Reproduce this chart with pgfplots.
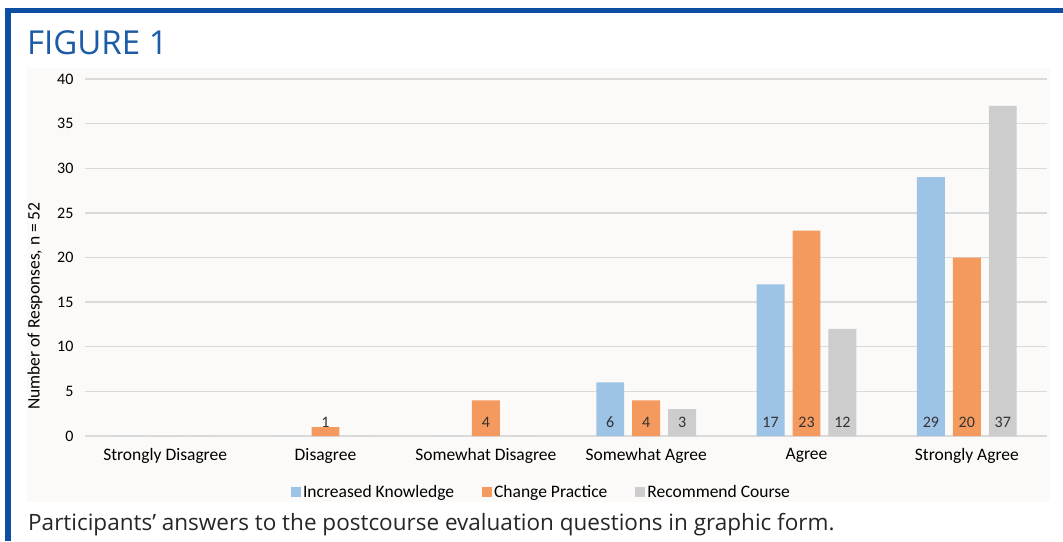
\documentclass[border=0pt]{standalone}
\usepackage{pgfplots}
\pgfplotsset{compat=1.18}
\usepackage{fontspec}
\newfontfamily\carlito{Carlito}
\newfontfamily\capfont{Open Sans}
\definecolor{framecol}{HTML}{0B4EA2}
\definecolor{titlecol}{HTML}{1C5BA6}
\definecolor{panel}{HTML}{FBFAF8}
\definecolor{cblue}{HTML}{9DC3E6}
\definecolor{corange}{HTML}{F59A5E}
\definecolor{cgray}{HTML}{CDCDCD}
\definecolor{gridc}{HTML}{DADADA}
\definecolor{labc}{HTML}{333333}
\begin{document}
\begin{tikzpicture}
\useasboundingbox (0,0) rectangle (1063pt,541pt);
\fill[white] (0,0) rectangle (1063pt,541pt);
\fill[panel] (27pt,39pt) rectangle (1050pt,473pt);
\fill[framecol] (5pt,0pt) rectangle (11pt,533pt);
\fill[framecol] (5pt,528pt) rectangle (1063pt,533pt);
\node[anchor=base west, inner sep=0pt, text=titlecol, font=\capfont\fontsize{33}{38}\selectfont] at (27pt,486pt) {FIGURE 1};
\node[anchor=base west, inner sep=0pt, text=black!85, font=\capfont\fontsize{22.5}{26}\selectfont] at (28pt,11pt) {Participants’ answers to the postcourse evaluation questions in graphic form.};
\begin{axis}[
  at={(85pt,105pt)}, anchor=south west,
  scale only axis, width=962pt, height=357pt,
  ymin=0, ymax=40, xmin=-0.5, xmax=5.5,
  ytick={0,5,...,40},
  xtick={0,1,2,3,4,5},
  xticklabels={Strongly Disagree,Disagree,Somewhat Disagree,Somewhat Agree,Agree,Strongly Agree},
  major tick length=0pt,
  axis line style={draw=none},
  ymajorgrids, grid style={gridc, line width=1.3pt},
  /pgf/number format/assume math mode=true,
  yticklabel style={font=\carlito\fontsize{16}{19}\selectfont, text=black, xshift=-8pt},
  xticklabel style={font=\carlito\fontsize{17.5}{21}\selectfont, text=black, yshift=-9pt},
  ylabel={Number of Responses, n = 52},
  every axis y label/.style={at={(axis description cs:-0.052,0.364)}, rotate=90, anchor=center, font=\carlito\fontsize{17.5}{20}\selectfont},
  ybar, bar width=0.174,
  legend style={at={(0.4745,-0.157)}, anchor=center, draw=none, fill=none,
    font=\carlito\fontsize{17.5}{20}\selectfont, legend columns=3,
    /tikz/every even column/.append style={column sep=26pt}},
  legend cell align=left,
]
\addplot[fill=cblue, draw=none, bar shift=-0.224,
  legend image code/.code={\fill[cblue] (0pt,-5pt) rectangle (10pt,5pt);}]
  coordinates {(0,0) (1,0) (2,0) (3,6) (4,17) (5,29)};
\addlegendentry{Increased Knowledge}
\addplot[fill=corange, draw=none, bar shift=0,
  legend image code/.code={\fill[corange] (0pt,-5pt) rectangle (10pt,5pt);}]
  coordinates {(0,0) (1,1) (2,4) (3,4) (4,23) (5,20)};
\addlegendentry{Change Practice}
\addplot[fill=cgray, draw=none, bar shift=0.224,
  legend image code/.code={\fill[cgray] (0pt,-5pt) rectangle (10pt,5pt);}]
  coordinates {(0,0) (1,0) (2,0) (3,3) (4,12) (5,37)};
\addlegendentry{Recommend Course}
% value labels at the base of each bar
\addplot[forget plot, draw=none, fill=none, bar shift=-0.224, point meta=explicit symbolic,
  nodes near coords, every node near coord/.append style={inner sep=0pt, anchor=south, text=labc, font=\carlito\fontsize{16}{19}\selectfont}]
  table[meta=v] {x y v
3 0.95 6
4 0.95 17
5 0.95 29
};
\addplot[forget plot, draw=none, fill=none, bar shift=0, point meta=explicit symbolic,
  nodes near coords, every node near coord/.append style={inner sep=0pt, anchor=south, text=labc, font=\carlito\fontsize{16}{19}\selectfont}]
  table[meta=v] {x y v
1 0.95 1
2 0.95 4
3 0.95 4
4 0.95 23
5 0.95 20
};
\addplot[forget plot, draw=none, fill=none, bar shift=0.224, point meta=explicit symbolic,
  nodes near coords, every node near coord/.append style={inner sep=0pt, anchor=south, text=labc, font=\carlito\fontsize{16}{19}\selectfont}]
  table[meta=v] {x y v
3 0.95 3
4 0.95 12
5 0.95 37
};
\end{axis}
\end{tikzpicture}
\end{document}
